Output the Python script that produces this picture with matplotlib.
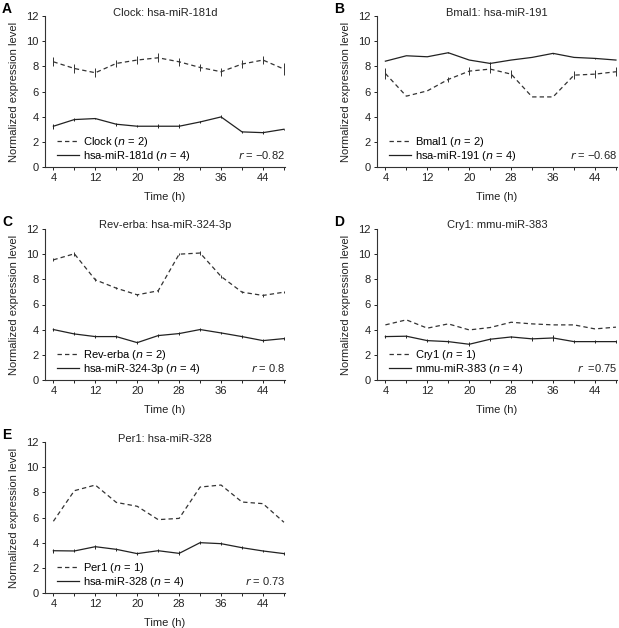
import matplotlib
matplotlib.use("Agg")
import matplotlib.pyplot as plt
from matplotlib.lines import Line2D

plt.rcParams["font.family"] = ["Liberation Sans", "DejaVu Sans"]

# ---------------------------------------------------------------------------
# DATA
# ---------------------------------------------------------------------------
hours = [4, 8, 12, 16, 20, 24, 28, 32, 36, 40, 44, 48]

clock = [8.36, 7.83, 7.49, 8.23, 8.50, 8.68, 8.36, 7.91, 7.57, 8.18, 8.50, 7.78]
clock_err = [0.35, 0.35, 0.35, 0.3, 0.3, 0.35, 0.3, 0.3, 0.3, 0.3, 0.35, 0.5]
mir181d = [3.24, 3.77, 3.85, 3.40, 3.24, 3.24, 3.24, 3.58, 3.98, 2.79, 2.73, 3.00]
mir181d_err = [0.2, 0.1, 0.05, 0.12, 0.1, 0.15, 0.15, 0.1, 0.12, 0.05, 0.1, 0.05]

bmal1 = [7.43, 5.63, 6.05, 6.96, 7.62, 7.78, 7.38, 5.57, 5.57, 7.30, 7.38, 7.57]
bmal1_err = [0.4, 0.0, 0.0, 0.2, 0.3, 0.3, 0.3, 0.0, 0.0, 0.3, 0.3, 0.35]
mir191 = [8.41, 8.84, 8.76, 9.08, 8.50, 8.23, 8.50, 8.71, 9.03, 8.71, 8.63, 8.50]
mir191_err = [0.0, 0.0, 0.0, 0.05, 0.0, 0.1, 0.0, 0.0, 0.05, 0.0, 0.05, 0.0]

reverba = [9.55, 10.03, 7.96, 7.30, 6.77, 7.09, 10.00, 10.09, 8.23, 6.98, 6.72, 6.98]
reverba_err = [0.12, 0.15, 0.12, 0.1, 0.1, 0.1, 0.1, 0.15, 0.12, 0.1, 0.1, 0.1]
mir324 = [4.01, 3.66, 3.45, 3.45, 2.97, 3.53, 3.69, 4.01, 3.74, 3.45, 3.13, 3.29]
mir324_err = [0.1, 0.12, 0.12, 0.12, 0.1, 0.12, 0.12, 0.1, 0.1, 0.1, 0.12, 0.1]

cry1 = [4.38, 4.78, 4.12, 4.46, 3.98, 4.17, 4.59, 4.46, 4.38, 4.38, 4.06, 4.20]
mir383 = [3.45, 3.48, 3.13, 3.05, 2.84, 3.24, 3.42, 3.27, 3.34, 3.05, 3.05, 3.05]
mir383_err = [0.12, 0.12, 0.12, 0.12, 0.15, 0.12, 0.1, 0.15, 0.25, 0.1, 0.1, 0.1]

per1 = [5.70, 8.13, 8.58, 7.20, 6.89, 5.83, 5.93, 8.42, 8.58, 7.23, 7.10, 5.62]
mir328 = [3.36, 3.34, 3.68, 3.47, 3.13, 3.36, 3.15, 4.00, 3.92, 3.60, 3.34, 3.13]
mir328_err = [0.15, 0.12, 0.15, 0.1, 0.12, 0.1, 0.15, 0.1, 0.1, 0.1, 0.1, 0.1]

panels = [
    ("A", "Clock: hsa-miR-181d", "Clock", 2, clock, clock_err,
     "hsa-miR-181d", 4, mir181d, mir181d_err, "$r$ = \u22120.82"),
    ("B", "Bmal1: hsa-miR-191", "Bmal1", 2, bmal1, bmal1_err,
     "hsa-miR-191", 4, mir191, mir191_err, "$r$ = \u22120.68"),
    ("C", "Rev-erba: hsa-miR-324-3p", "Rev-erba", 2, reverba, reverba_err,
     "hsa-miR-324-3p", 4, mir324, mir324_err, "$r$ = 0.8"),
    ("D", "Cry1: mmu-miR-383", "Cry1", 1, cry1, None,
     "mmu-miR-383", 4, mir383, mir383_err, "$r$  =0.75"),
    ("E", "Per1: hsa-miR-328", "Per1", 1, per1, None,
     "hsa-miR-328", 4, mir328, mir328_err, "$r$ = 0.73"),
]

# axes boxes in pixels: left, top (from figure top)
W, H = 619, 628
boxes = [(45, 16), (377, 16), (45, 229), (377, 229), (45, 442)]
AW, AH = 240, 151

DASH = (0, (3.5, 2.5))
INK = "#222222"

fig = plt.figure(figsize=(W / 100, H / 100), dpi=100)

for (letter, title, gname, gn, gvals, gerr, mname, mn, mvals, merr, rtxt), (px, py) in zip(panels, boxes):
    ax = fig.add_axes([px / W, 1 - (py + AH) / H, AW / W, AH / H])
    ax.errorbar(hours, gvals, yerr=gerr, color="#333333", lw=0.9, ls=DASH,
                elinewidth=0.7, capsize=0)
    ax.errorbar(hours, mvals, yerr=merr, color=INK, lw=0.9, ls="-",
                elinewidth=0.7, capsize=0)

    ax.set_xlim(2.4, 48.2)
    ax.set_ylim(0, 12)
    ax.set_yticks(range(0, 13, 2))
    ax.set_xticks(hours)
    ax.set_xticklabels([str(h) if (h - 4) % 8 == 0 else "" for h in hours])
    ax.tick_params(labelsize=8, length=2.5, width=0.7, pad=2, colors=INK)
    for side in ("top", "right"):
        ax.spines[side].set_visible(False)
    for side in ("left", "bottom"):
        ax.spines[side].set_linewidth(0.8)
        ax.spines[side].set_color("#333333")

    ax.text(0.5, 1 + 3.5 / AH, title, transform=ax.transAxes, ha="center",
            va="center", fontsize=8, color=INK)
    ax.set_xlabel("Time (h)", fontsize=8, labelpad=6, color=INK)
    ax.set_ylabel("Normalized expression level", fontsize=8, labelpad=5, color=INK)

    handles = [Line2D([], [], color="#333333", lw=0.9, ls=DASH),
               Line2D([], [], color=INK, lw=0.9)]
    labels = [f"{gname} ($n$ = {gn})", f"{mname} ($n$ = {mn})"]
    ax.legend(handles, labels, loc="lower left", bbox_to_anchor=(0.03, 0.0),
              frameon=False, fontsize=8, handlelength=2.0, handletextpad=0.4,
              labelspacing=0.0, borderaxespad=0.2, borderpad=0.2)
    ax.text(1.0, 0.08, rtxt, transform=ax.transAxes, ha="right", va="center",
            fontsize=8, color=INK)

    fig.text(px / W - 43 / W, 1 - (py - 7) / H, letter, fontsize=10, fontweight="bold",
             ha="left", va="center")

fig.savefig("out.png", dpi=100)
